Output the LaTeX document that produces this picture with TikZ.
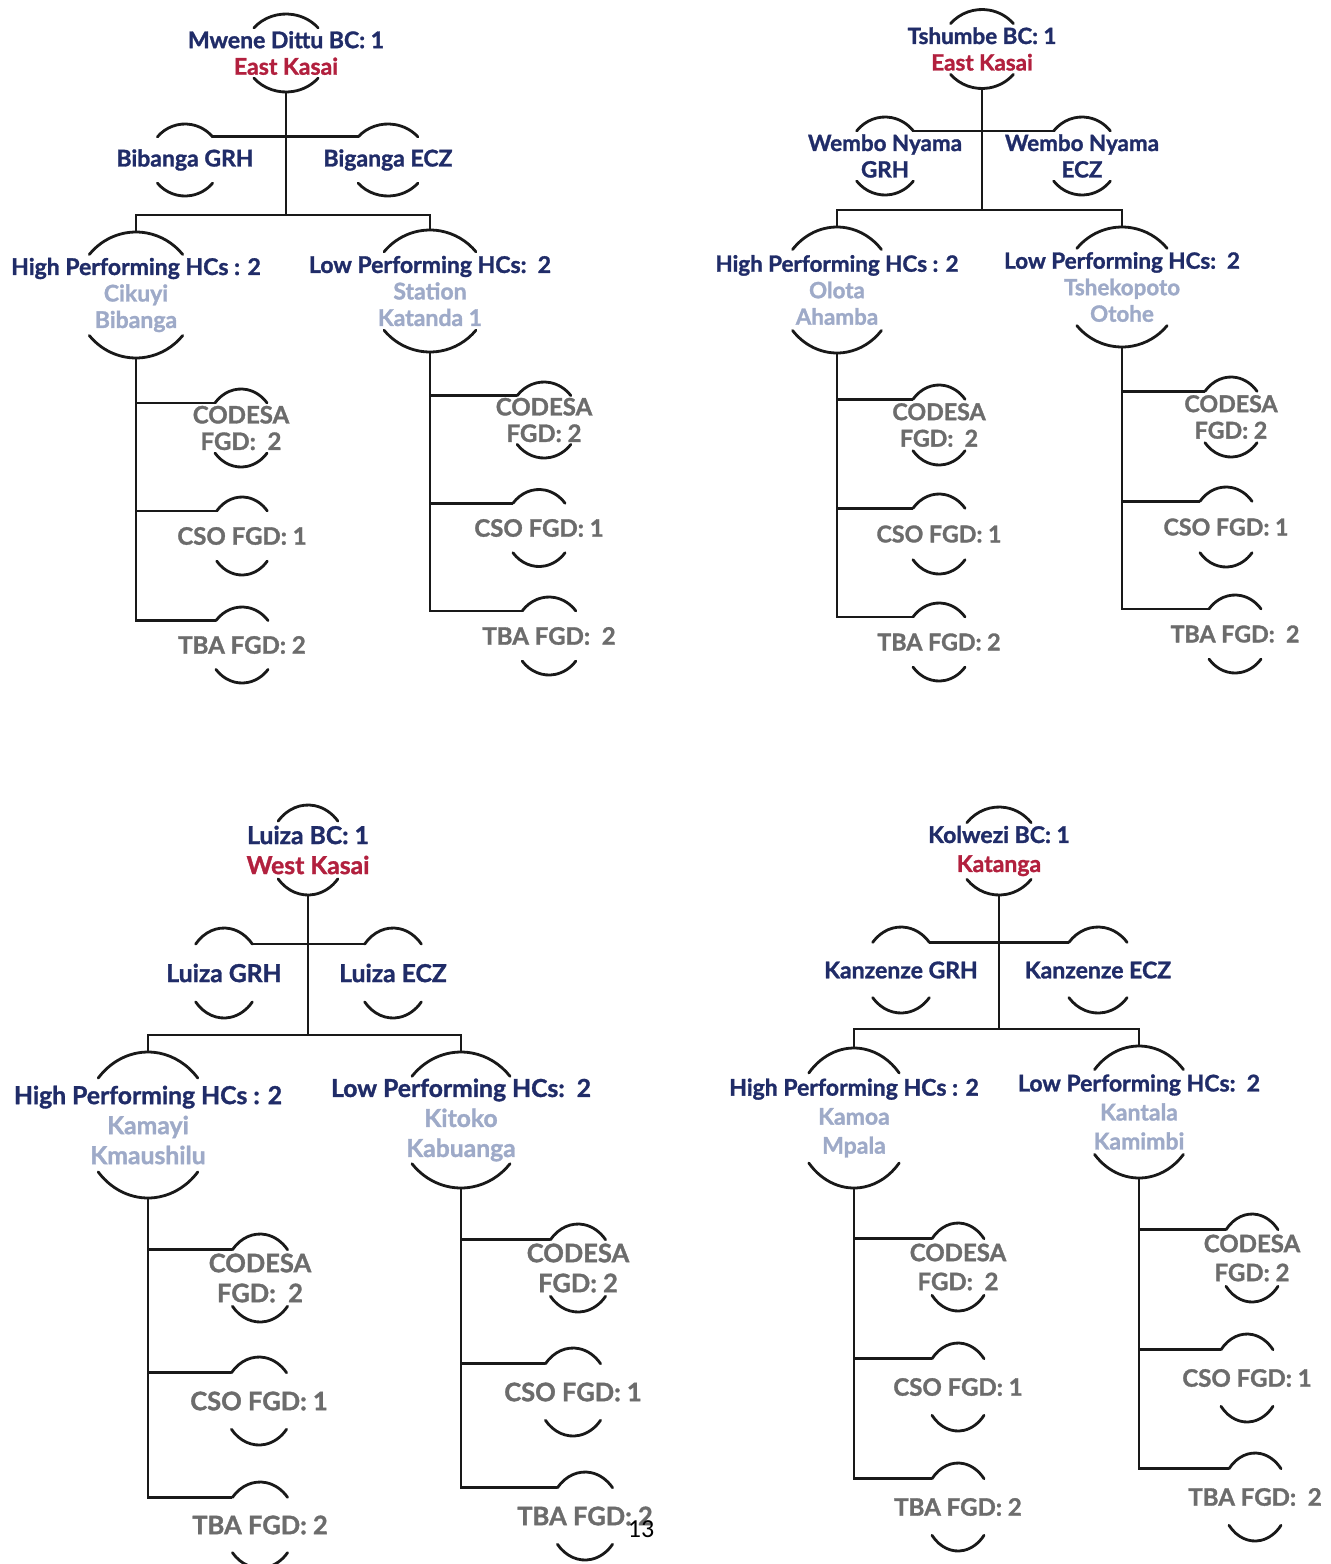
\documentclass[tikz,border=0pt]{standalone}
\usepackage{fontspec}
\setmainfont{Lato}[BoldFeatures={FakeBold=1.3}]
\setsansfont{Carlito}
\usetikzlibrary{calc}
\definecolor{navy}{RGB}{32,44,104}
\definecolor{kred}{RGB}{178,32,62}
\definecolor{hcname}{RGB}{158,170,200}
\definecolor{fgdgray}{RGB}{108,108,108}
\definecolor{lineblk}{RGB}{25,25,25}
\def\fsz{22}\def\lsk{26.5}\def\gsz{23}
\tikzset{
  conn/.style={line width=2.8pt, lineblk},
  arcl/.style={line width=2.8pt, lineblk, line cap=round},
  lbl/.style={align=center, inner sep=0pt, font=\fontsize{\fsz}{\lsk}\selectfont\bfseries},
  navytxt/.style={lbl, text=navy},
  fgdtxt/.style={align=center, inner sep=0pt, text=fgdgray, font=\fontsize{\gsz}{\lsk}\selectfont\bfseries},
  pagenum/.style={inner sep=0pt, font=\sffamily\fontsize{26}{30}\selectfont, text=black}
}
% name, cx, cy, rx, ry, style, text
\newcommand\bub[7]{%
  \node[#6] (#1) at (#2,-#3) {#7};
  \draw[arcl] (#2,-#3) ++(140:#4pt and #5pt) arc[start angle=140,end angle=40,x radius=#4pt,y radius=#5pt];
  \draw[arcl] (#2,-#3) ++(220:#4pt and #5pt) arc[start angle=220,end angle=320,x radius=#4pt,y radius=#5pt];
  \path (#2,-#3) ++(90:#4pt and #5pt) coordinate (#1-t);
  \path (#2,-#3) ++(270:#4pt and #5pt) coordinate (#1-b);
  \path (#2,-#3) ++(140:#4pt and #5pt) coordinate (#1-tl);
  \path (#2,-#3) ++(40:#4pt and #5pt) coordinate (#1-tr);
}
\newcommand\rootlbl[2]{{\color{navy}#1}\\{\color{kred}#2}}
\newcommand\hclbl[3]{{\color{navy}#1}\\{\color{hcname}#2}\\{\color{hcname}#3}}
% connections of one panel: suffix
\newcommand\wire[1]{%
  \draw[conn] (root#1-b) -- (bus#1);
  \draw[conn] (grh#1-tr) -- (ecz#1-tl);
  \draw[conn] (hp#1-t) |- (bus#1) -| (lp#1-t);
  \draw[conn] (hp#1-b) |- (tba#1a-tl);
  \draw[conn] (cod#1a-tl) -- (cod#1a-tl -| hp#1-b);
  \draw[conn] (cso#1a-tl) -- (cso#1a-tl -| hp#1-b);
  \draw[conn] (lp#1-b) |- (tba#1b-tl);
  \draw[conn] (cod#1b-tl) -- (cod#1b-tl -| lp#1-b);
  \draw[conn] (cso#1b-tl) -- (cso#1b-tl -| lp#1-b);
}
\begin{document}
\begin{tikzpicture}[x=1pt,y=1pt]
\useasboundingbox[fill=white] (0,0) rectangle (1331,-1564);

% ---------------- Panel 1 (top left)
\def\fsz{23}\def\lsk{26.5}\def\gsz{24}
\bub{root1}{286}{53}{42}{39}{lbl}{\rootlbl{Mwene Dittu BC: 1}{East Kasai}}
\bub{grh1}{185}{160}{36}{36}{navytxt}{Bibanga GRH}
\bub{ecz1}{388}{160}{39}{36}{navytxt}{Biganga ECZ}
\coordinate (bus1) at (286,-215);
\bub{hp1}{136}{295}{61}{63}{lbl}{\hclbl{High Performing HCs : 2}{Cikuyi}{Bibanga}}
\bub{lp1}{430}{291}{60}{61}{lbl}{\hclbl{Low Performing HCs:\ \ 2}{Station}{Katanda 1}}
\bub{cod1a}{241}{428}{34}{39}{fgdtxt}{CODESA\\FGD:\ \ 2}
\bub{cso1a}{242}{536}{33}{39}{fgdtxt}{CSO FGD: 1}
\bub{tba1a}{242}{645}{34}{38}{fgdtxt}{TBA FGD: 2}
\bub{cod1b}{544}{420}{35}{38}{fgdtxt}{CODESA\\FGD: 2}
\bub{cso1b}{539}{528}{34}{38.5}{fgdtxt}{CSO FGD: 1}
\bub{tba1b}{549}{636}{35}{39}{fgdtxt}{TBA FGD:\ \ 2}
\wire{1}

% ---------------- Panel 2 (top right)
\def\fsz{22.4}\def\lsk{26.5}\def\gsz{23.2}
\bub{root2}{982}{49}{41}{39.5}{lbl}{\rootlbl{Tshumbe BC: 1}{East Kasai}}
\bub{grh2}{885}{156}{37}{39}{navytxt}{Wembo Nyama\\GRH}
\bub{ecz2}{1082}{156}{37}{39}{navytxt}{Wembo Nyama\\ECZ}
\coordinate (bus2) at (982,-210);
\bub{hp2}{837}{290}{58}{63}{lbl}{\hclbl{High Performing HCs : 2}{Olota}{Ahamba}}
\bub{lp2}{1122}{287}{59}{60}{lbl}{\hclbl{Low Performing HCs:\ \ 2}{Tshekopoto}{Otohe}}
\bub{cod2a}{939}{425}{34}{40}{fgdtxt}{CODESA\\FGD:\ \ 2}
\bub{cso2a}{939}{534}{34}{40}{fgdtxt}{CSO FGD: 1}
\bub{tba2a}{939}{642}{34}{39}{fgdtxt}{TBA FGD: 2}
\bub{cod2b}{1231}{417}{34}{40}{fgdtxt}{CODESA\\FGD: 2}
\bub{cso2b}{1226}{527}{34}{40}{fgdtxt}{CSO FGD: 1}
\bub{tba2b}{1235}{634}{34}{39}{fgdtxt}{TBA FGD:\ \ 2}
\wire{2}

% ---------------- Panel 3 (bottom left)
\def\fsz{24.7}\def\lsk{30}\def\gsz{25.5}
\bub{root3}{308}{850}{39}{45}{lbl}{\rootlbl{Luiza BC: 1}{West Kasai}}
\bub{grh3}{224}{973}{37}{45}{navytxt}{Luiza GRH}
\bub{ecz3}{393}{973}{37}{45}{navytxt}{Luiza ECZ}
\coordinate (bus3) at (308,-1035);
\bub{hp3}{148}{1125}{65}{73}{lbl}{\hclbl{High Performing HCs : 2}{Kamayi}{Kmaushilu}}
\bub{lp3}{461}{1120}{64}{68}{lbl}{\hclbl{Low Performing HCs:\ \ 2}{Kitoko}{Kabuanga}}
\bub{cod3a}{260}{1278}{36}{44}{fgdtxt}{CODESA\\FGD:\ \ 2}
\bub{cso3a}{259}{1401}{36}{44}{fgdtxt}{CSO FGD: 1}
\bub{tba3a}{260}{1525}{36}{43}{fgdtxt}{TBA FGD: 2}
\bub{cod3b}{578}{1268}{36}{44}{fgdtxt}{CODESA\\FGD: 2}
\bub{cso3b}{573}{1392}{36}{44}{fgdtxt}{CSO FGD: 1}
\bub{tba3b}{585}{1516}{36}{44}{fgdtxt}{TBA FGD: 2}
\wire{3}

% ---------------- Panel 4 (bottom right)
\def\fsz{23}\def\lsk{29}\def\gsz{24}
\bub{root4}{999}{851}{42}{44}{lbl}{\rootlbl{Kolwezi BC: 1}{Katanga}}
\bub{grh4}{901}{970}{37}{43}{navytxt}{Kanzenze GRH}
\bub{ecz4}{1098}{970}{38}{43}{navytxt}{Kanzenze ECZ}
\coordinate (bus4) at (999,-1029);
\bub{hp4}{854}{1118}{59}{70}{lbl}{\hclbl{High Performing HCs : 2}{Kamoa}{Mpala}}
\bub{lp4}{1139}{1112}{58}{66}{lbl}{\hclbl{Low Performing HCs:\ \ 2}{Kantala}{Kamimbi}}
\bub{cod4a}{958}{1267}{34}{44}{fgdtxt}{CODESA\\FGD:\ \ 2}
\bub{cso4a}{958}{1387}{34}{44}{fgdtxt}{CSO FGD: 1}
\bub{tba4a}{958}{1507}{34}{44}{fgdtxt}{TBA FGD: 2}
\bub{cod4b}{1252}{1258}{34}{44}{fgdtxt}{CODESA\\FGD: 2}
\bub{cso4b}{1247}{1378}{34}{44}{fgdtxt}{CSO FGD: 1}
\bub{tba4b}{1255}{1497}{34}{44}{fgdtxt}{TBA FGD:\ \ 2}
\wire{4}

\node[pagenum] (pg) at (641,-1529) {13};
\end{tikzpicture}
\end{document}
